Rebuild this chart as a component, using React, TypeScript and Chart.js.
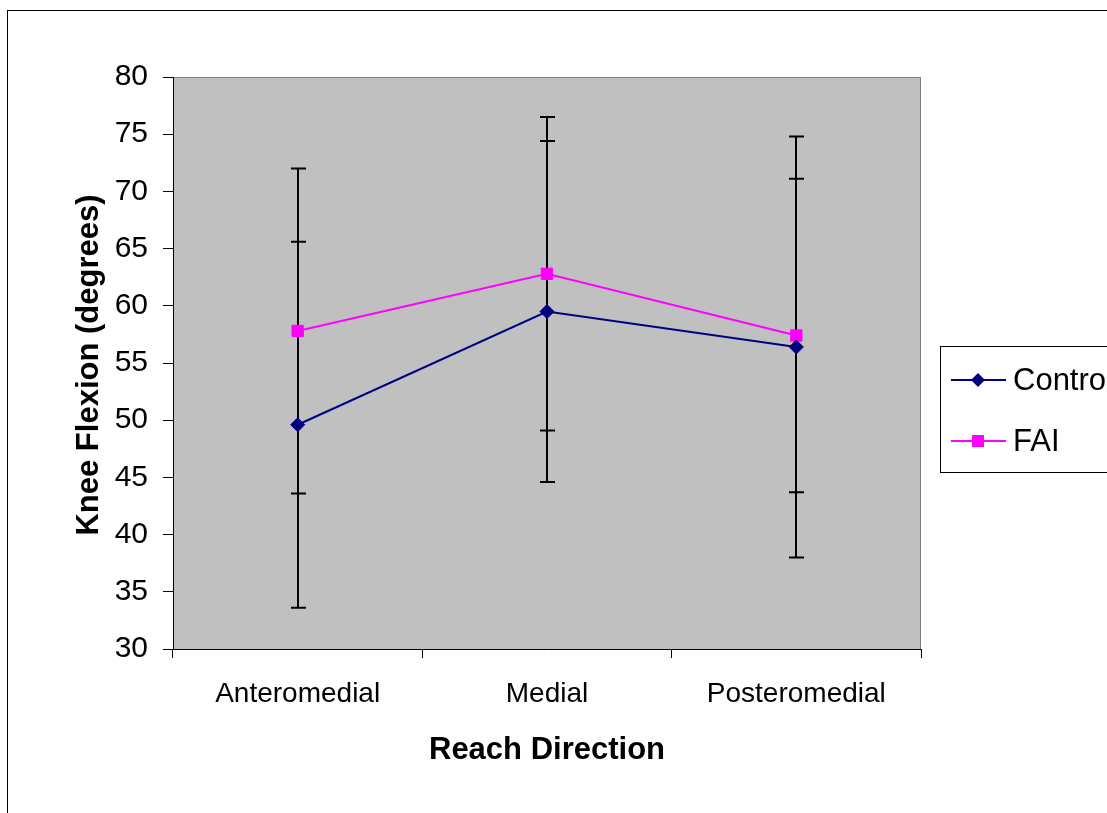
import React, { useEffect, useRef } from 'react';
import { Chart, registerables } from 'chart.js';

Chart.register(...registerables);

const categories = ['Anteromedial', 'Medial', 'Posteromedial'];
const seriesNames = ['Control', 'FAI'];
const controlMeans = [49.6, 59.5, 56.4];
const controlSD = [16.0, 14.9, 18.4];
const faiMeans = [57.8, 62.8, 57.4];
const faiSD = [14.2, 13.7, 13.7];
const yMin = 30;
const yMax = 80;
const yStep = 5;
const xTitle = 'Reach Direction';
const yTitle = 'Knee Flexion (degrees)';

const W = 1140;
const H = 830;
const FONT = "'Liberation Sans', Arial, sans-serif";
const CONTROL_COLOR = '#000080';
const FAI_COLOR = '#FF00FF';

const decor = {
  id: 'decor',
  beforeDraw(chart: any) {
    const { ctx, chartArea: a } = chart;
    ctx.save();
    ctx.fillStyle = '#ffffff';
    ctx.fillRect(0, 0, W, H);
    ctx.strokeStyle = '#000000';
    ctx.lineWidth = 1;
    ctx.strokeRect(7.5, 10.5, W - 20, H - 20);
    ctx.fillStyle = '#c0c0c0';
    ctx.fillRect(a.left, a.top, a.right - a.left, a.bottom - a.top);
    ctx.strokeStyle = '#808080';
    ctx.strokeRect(a.left + 0.5, a.top + 0.5, a.right - a.left - 1, a.bottom - a.top);
    ctx.restore();
  },
  beforeDatasetsDraw(chart: any) {
    const { ctx } = chart;
    const xs = chart.scales.x;
    const ys = chart.scales.y;
    ctx.save();
    ctx.strokeStyle = '#000000';
    ctx.lineWidth = 2;
    const groups: [number[], number[]][] = [
      [controlMeans, controlSD],
      [faiMeans, faiSD],
    ];
    groups.forEach(([m, sd]) => {
      m.forEach((v, i) => {
        const px = Math.round(xs.getPixelForValue(i));
        const top = ys.getPixelForValue(v + sd[i]);
        const bot = ys.getPixelForValue(v - sd[i]);
        ctx.beginPath();
        ctx.moveTo(px, top);
        ctx.lineTo(px, bot);
        ctx.moveTo(px - 7, top);
        ctx.lineTo(px + 8, top);
        ctx.moveTo(px - 7, bot);
        ctx.lineTo(px + 8, bot);
        ctx.stroke();
      });
    });
    ctx.restore();
  },
  afterDraw(chart: any) {
    const { ctx, chartArea: a } = chart;
    ctx.save();
    // axis titles
    ctx.fillStyle = '#000000';
    ctx.font = `bold 31px ${FONT}`;
    ctx.textAlign = 'center';
    ctx.textBaseline = 'alphabetic';
    ctx.fillText(xTitle, (a.left + a.right) / 2, 759);
    ctx.save();
    ctx.translate(98, (a.top + a.bottom) / 2 + 2);
    ctx.rotate(-Math.PI / 2);
    ctx.fillText(yTitle, 0, 0);
    ctx.restore();

    // legend
    ctx.fillStyle = '#ffffff';
    ctx.fillRect(940, 346, 200, 126);
    ctx.strokeStyle = '#000000';
    ctx.lineWidth = 1;
    ctx.strokeRect(940.5, 346.5, 200, 126);
    const entries = [
      { name: seriesNames[0], color: CONTROL_COLOR, y: 380, style: 'diamond' },
      { name: seriesNames[1], color: FAI_COLOR, y: 441, style: 'square' },
    ];
    entries.forEach((e) => {
      ctx.strokeStyle = e.color;
      ctx.lineWidth = 2;
      ctx.beginPath();
      ctx.moveTo(951, e.y);
      ctx.lineTo(1006, e.y);
      ctx.stroke();
      ctx.fillStyle = e.color;
      const cx = 978;
      if (e.style === 'diamond') {
        ctx.beginPath();
        ctx.moveTo(cx - 7, e.y);
        ctx.lineTo(cx, e.y - 7);
        ctx.lineTo(cx + 7, e.y);
        ctx.lineTo(cx, e.y + 7);
        ctx.closePath();
        ctx.fill();
      } else {
        ctx.fillRect(cx - 6, e.y - 6, 12, 12);
      }
      ctx.fillStyle = '#000000';
      ctx.font = `31px ${FONT}`;
      ctx.textAlign = 'left';
      ctx.textBaseline = 'middle';
      ctx.fillText(e.name, 1013, e.y + 1);
    });
    ctx.restore();
  },
};

export default function App() {
  const ref = useRef<HTMLCanvasElement | null>(null);

  useEffect(() => {
    if (!ref.current) return;
    const chart = new Chart(ref.current, {
      type: 'line',
      data: {
        labels: categories,
        datasets: [
          {
            label: seriesNames[0],
            data: controlMeans,
            borderColor: CONTROL_COLOR,
            backgroundColor: CONTROL_COLOR,
            borderWidth: 2,
            pointStyle: 'rectRot',
            pointRadius: 7,
            pointBackgroundColor: CONTROL_COLOR,
            pointBorderColor: CONTROL_COLOR,
            pointBorderWidth: 1,
            tension: 0,
          },
          {
            label: seriesNames[1],
            data: faiMeans,
            borderColor: FAI_COLOR,
            backgroundColor: FAI_COLOR,
            borderWidth: 2,
            pointStyle: 'rect',
            pointRadius: 8,
            pointBackgroundColor: FAI_COLOR,
            pointBorderColor: FAI_COLOR,
            pointBorderWidth: 1,
            tension: 0,
          },
        ],
      },
      options: {
        responsive: false,
        animation: false,
        layout: { padding: { left: 0, top: 77, right: W - 921, bottom: 0 } },
        plugins: {
          legend: { display: false },
          tooltip: { enabled: false },
        },
        scales: {
          x: {
            type: 'category',
            offset: true,
            grid: { offset: true, drawOnChartArea: false, tickLength: 9, color: '#000000', lineWidth: 1 },
            border: { color: '#000000', width: 1 },
            ticks: { font: { family: FONT, size: 28 }, color: '#000000', padding: 19, maxRotation: 0 },
            afterFit(s: any) {
              s.height = H - 649;
            },
          },
          y: {
            min: yMin,
            max: yMax,
            ticks: { stepSize: yStep, font: { family: FONT, size: 30 }, color: '#000000', padding: 15 },
            grid: { drawOnChartArea: false, tickLength: 10, color: '#000000', lineWidth: 1 },
            border: { color: '#000000', width: 1 },
            afterFit(s: any) {
              s.width = 173;
            },
          },
        },
      },
      plugins: [decor],
    });
    return () => chart.destroy();
  }, []);

  return (
    <div
      style={{
        position: 'absolute',
        left: 0,
        top: 0,
        width: 1107,
        height: 813,
        overflow: 'hidden',
        background: '#ffffff',
      }}
    >
      <canvas ref={ref} width={W} height={H} style={{ display: 'block', width: W, height: H }} />
    </div>
  );
}
